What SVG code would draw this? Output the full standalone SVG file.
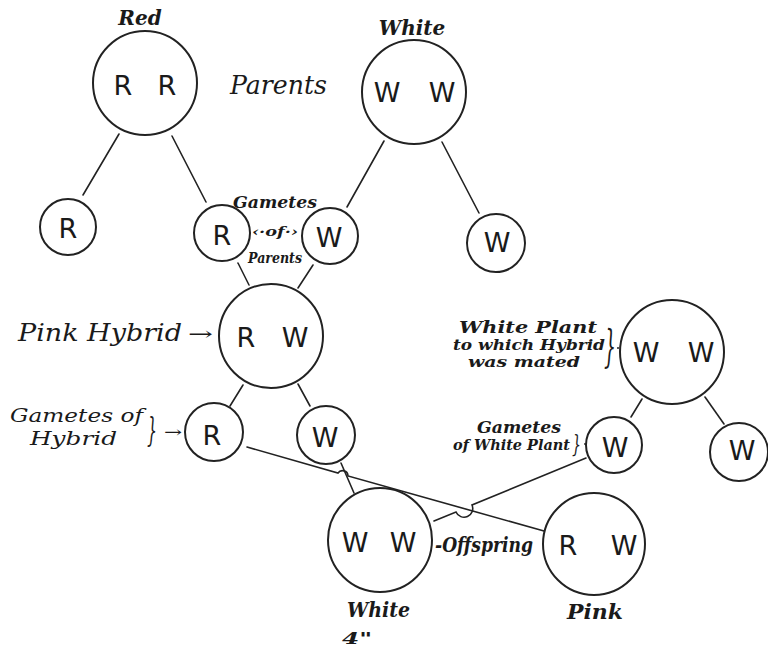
<svg xmlns="http://www.w3.org/2000/svg" width="768" height="649" viewBox="0 0 768 649">
<style>
.c{fill:none;stroke:#222;stroke-width:2}
.l{fill:none;stroke:#222;stroke-width:1.6;stroke-linecap:round}
.g{font-family:"DejaVu Sans","Liberation Sans",sans-serif;font-size:27px;fill:#1a1a1a;text-anchor:middle}
.h{font-family:"DejaVu Serif","Liberation Serif",serif;font-style:italic;fill:#1a1a1a}
</style>
<rect width="768" height="649" fill="#fff"/>
<g id="connectors">
<line class="l" x1="119" y1="134" x2="83" y2="195"/>
<line class="l" x1="172" y1="136" x2="206" y2="202"/>
<line class="l" x1="384" y1="141" x2="347" y2="207"/>
<line class="l" x1="442" y1="142" x2="479" y2="213"/>
<line class="l" x1="238" y1="263" x2="249" y2="285"/>
<line class="l" x1="313" y1="265" x2="298" y2="288"/>
<line class="l" x1="243" y1="385" x2="230" y2="406"/>
<line class="l" x1="298" y1="384" x2="310" y2="406"/>
<line class="l" x1="642" y1="399" x2="631" y2="417"/>
<line class="l" x1="705" y1="397" x2="724" y2="424"/>
<line class="l" x1="341" y1="463" x2="354" y2="493"/>
<path class="l" d="M247,447 L338,473 a5.5,5.5 0 0 1 10,3 L544,531"/>
<path class="l" d="M586,458 L472,505 a8,8 0 0 1 -16,7 L434,521"/>
</g>
<g id="red-parent">
<circle class="c" cx="145" cy="83" r="52"/>
<text class="g" x="123" y="95">R</text>
<text class="g" x="167" y="95">R</text>
<text class="h" x="140" y="25" font-size="20" font-weight="bold" text-anchor="middle">Red</text>
</g>
<g id="white-parent">
<circle class="c" cx="414" cy="92" r="52"/>
<text class="g" x="387" y="102">W</text>
<text class="g" x="442" y="102">W</text>
<text class="h" x="412" y="35" font-size="20" font-weight="bold" text-anchor="middle">White</text>
</g>
<g id="parents-label">
<text class="h" x="230" y="94" font-size="26" textLength="97" lengthAdjust="spacingAndGlyphs">Parents</text>
</g>
<g id="gamete-r-left">
<circle class="c" cx="68" cy="227" r="28"/>
<text class="g" x="68" y="238">R</text>
</g>
<g id="gamete-r">
<circle class="c" cx="222" cy="233" r="28"/>
<text class="g" x="222" y="245">R</text>
</g>
<g id="gamete-w">
<circle class="c" cx="330" cy="236" r="28"/>
<text class="g" x="329" y="247">W</text>
</g>
<g id="gamete-w-right">
<circle class="c" cx="496" cy="243" r="29"/>
<text class="g" x="497" y="252">W</text>
</g>
<g id="gametes-of-parents-label">
<text class="h" x="233" y="208" font-size="17" font-weight="bold" textLength="84" lengthAdjust="spacingAndGlyphs">Gametes</text>
<text class="h" x="252" y="236" font-size="12" font-weight="bold" textLength="46" lengthAdjust="spacingAndGlyphs">‹·of·›</text>
<text class="h" x="248" y="263" font-size="15" font-weight="bold" textLength="54" lengthAdjust="spacingAndGlyphs">Parents</text>
</g>
<g id="pink-hybrid">
<circle class="c" cx="271" cy="336" r="52"/>
<text class="g" x="246" y="347">R</text>
<text class="g" x="295" y="347">W</text>
</g>
<g id="pink-hybrid-label">
<text class="h" x="18" y="341" font-size="24" textLength="164" lengthAdjust="spacingAndGlyphs">Pink  Hybrid</text>
<text class="h" x="188" y="340" font-size="18" textLength="25" lengthAdjust="spacingAndGlyphs">→</text>
</g>
<g id="hybrid-gamete-r">
<circle class="c" cx="214" cy="432" r="29"/>
<text class="g" x="212" y="445">R</text>
</g>
<g id="hybrid-gamete-w">
<circle class="c" cx="326" cy="435" r="29"/>
<text class="g" x="325" y="447">W</text>
</g>
<g id="gametes-of-hybrid-label">
<text class="h" x="10" y="422" font-size="19" textLength="133" lengthAdjust="spacingAndGlyphs">Gametes  of</text>
<text class="h" x="30" y="445" font-size="19" textLength="87" lengthAdjust="spacingAndGlyphs">Hybrid</text>
<text class="h" x="147" y="441" font-size="34" textLength="10" lengthAdjust="spacingAndGlyphs">}</text>
<text class="h" x="164" y="437" font-size="15" textLength="18" lengthAdjust="spacingAndGlyphs">→</text>
</g>
<g id="white-plant">
<circle class="c" cx="672" cy="352" r="52"/>
<text class="g" x="646" y="362">W</text>
<text class="g" x="701" y="362">W</text>
</g>
<g id="white-plant-label">
<text class="h" x="459" y="333" font-size="16" font-weight="bold" textLength="138" lengthAdjust="spacingAndGlyphs">White Plant</text>
<text class="h" x="453" y="350" font-size="14" font-weight="bold" textLength="152" lengthAdjust="spacingAndGlyphs">to which Hybrid</text>
<text class="h" x="468" y="367" font-size="15" font-weight="bold" textLength="112" lengthAdjust="spacingAndGlyphs">was mated</text>
<text class="h" x="604" y="362" font-size="44" textLength="12" lengthAdjust="spacingAndGlyphs">}</text>
<circle cx="618" cy="348" r="1" fill="#222"/>
</g>
<g id="white-plant-gamete-w">
<circle class="c" cx="614" cy="445" r="28"/>
<text class="g" x="615" y="457">W</text>
</g>
<g id="white-plant-gamete-w-right">
<circle class="c" cx="739" cy="452" r="29"/>
<text class="g" x="742" y="460">W</text>
</g>
<g id="gametes-of-white-plant-label">
<text class="h" x="477" y="433" font-size="16" font-weight="bold" textLength="84" lengthAdjust="spacingAndGlyphs">Gametes</text>
<text class="h" x="453" y="450" font-size="14" font-weight="bold" textLength="117" lengthAdjust="spacingAndGlyphs">of White Plant</text>
<text class="h" x="572" y="452" font-size="24" textLength="9" lengthAdjust="spacingAndGlyphs">}</text>
<circle cx="585" cy="444" r="0.9" fill="#222"/>
</g>
<g id="offspring-white">
<circle class="c" cx="380" cy="540" r="52"/>
<text class="g" x="355" y="552">W</text>
<text class="g" x="403" y="552">W</text>
<text class="h" x="347" y="617" font-size="20" font-weight="bold" textLength="63" lengthAdjust="spacingAndGlyphs">White</text>
</g>
<g id="offspring-label">
<text class="h" x="435" y="552" font-size="20" font-weight="bold" textLength="98" lengthAdjust="spacingAndGlyphs">-Offspring</text>
</g>
<g id="offspring-pink">
<circle class="c" cx="594" cy="544" r="51"/>
<text class="g" x="568" y="555">R</text>
<text class="g" x="624" y="555">W</text>
<text class="h" x="567" y="619" font-size="20" font-weight="bold" textLength="56" lengthAdjust="spacingAndGlyphs">Pink</text>
</g>
<g id="scale-note">
<text class="h" x="342" y="644" font-size="16" font-weight="bold" textLength="30" lengthAdjust="spacingAndGlyphs">4"</text>
</g>
</svg>
